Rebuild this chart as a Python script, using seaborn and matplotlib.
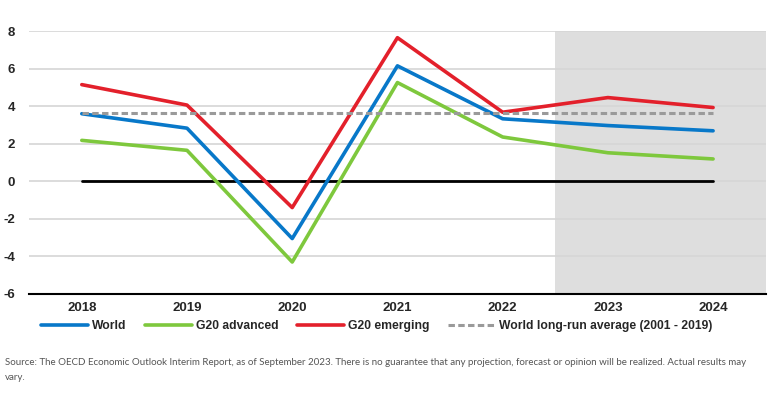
import pandas as pd
import seaborn as sns
import matplotlib.pyplot as plt
from matplotlib.lines import Line2D

# datos
anios = ['2018', '2019', '2020', '2021', '2022', '2023', '2024']
world = [3.6, 2.83, -3.05, 6.15, 3.33, 2.97, 2.69]
g20_advanced = [2.18, 1.65, -4.3, 5.26, 2.36, 1.52, 1.19]
g20_emerging = [5.15, 4.06, -1.4, 7.65, 3.68, 4.46, 3.93]
promedio_largo = 3.63
series = ['World', 'G20 advanced', 'G20 emerging']
colores = ['#0878c9', '#7ec83d', '#e3202b']

datos = pd.DataFrame({
    'Year': anios * 3,
    'Value': world + g20_advanced + g20_emerging,
    'Serie': [s for s in series for _ in anios],
})

sns.set_style('white')
plt.rcParams['font.family'] = ['Liberation Sans', 'DejaVu Sans']
plt.rcParams['axes.unicode_minus'] = False

fig = plt.figure(figsize=(7.68, 3.94), dpi=100)
ax = fig.add_axes([0.038, 0.254, 0.959, 0.667])

# zona de proyeccion
ax.axvspan(4.5, 6.5, color='#dedede', zorder=0, lw=0)
ax.grid(axis='y', color='#d6d6d6', lw=1.2, zorder=1)
ax.set_axisbelow(True)

ax.plot([0, 6], [0, 0], color='black', lw=2, zorder=2)

sns.lineplot(data=datos, x='Year', y='Value', hue='Serie', palette=colores,
             lw=2.6, ax=ax, legend=False, zorder=3)

guiones = (0, (2.1, 1.1))
ax.plot([0, 6], [promedio_largo, promedio_largo], color='#9a9a9a', lw=2.2,
        ls=guiones, zorder=4)

ax.set_xlim(-0.5, 6.5)
ax.set_ylim(-6, 8)
ax.set_yticks(range(-6, 9, 2))
ax.set_xticks(range(len(anios)))
ax.set_xticklabels(anios)
ax.set_xlabel('')
ax.set_ylabel('')
ax.tick_params(axis='x', length=0, pad=6, labelsize=9.5)
ax.tick_params(axis='y', length=0, pad=10, labelsize=9.5)
for t in ax.get_xticklabels() + ax.get_yticklabels():
    t.set_fontweight('bold')

ax.set_xticks([i + 0.5 for i in range(-1, 7)], minor=True)
ax.tick_params(axis='x', which='minor', direction='in', length=4, width=1.2, color='black')

for lado in ['top', 'right', 'left']:
    ax.spines[lado].set_visible(False)
ax.spines['bottom'].set_color('black')
ax.spines['bottom'].set_linewidth(1.5)

handles = [Line2D([], [], color=c, lw=2.6) for c in colores]
handles.append(Line2D([], [], color='#9a9a9a', lw=2.2, ls=guiones))
etiquetas = series + ['World long-run average (2001 - 2019)']
leg = fig.legend(handles, etiquetas, loc='center left', bbox_to_anchor=(0.053, 0.172),
                 ncol=4, frameon=False, handlelength=3.9, handletextpad=0.35,
                 columnspacing=1.5, borderaxespad=0, borderpad=0,
                 prop={'weight': 'bold', 'size': 8.7})

fig.text(0.006, 0.081,
         'Source: The OECD Economic Outlook Interim Report, as of September 2023. There is no guarantee '
         'that any projection, forecast or opinion will be realized. Actual results may',
         fontsize=7.0, color='#555555', family=['Lato', 'DejaVu Sans'], va='center')
fig.text(0.006, 0.043, 'vary.', fontsize=7.0, color='#555555',
         family=['Lato', 'DejaVu Sans'], va='center')

fig.savefig('out.png', dpi=100)
